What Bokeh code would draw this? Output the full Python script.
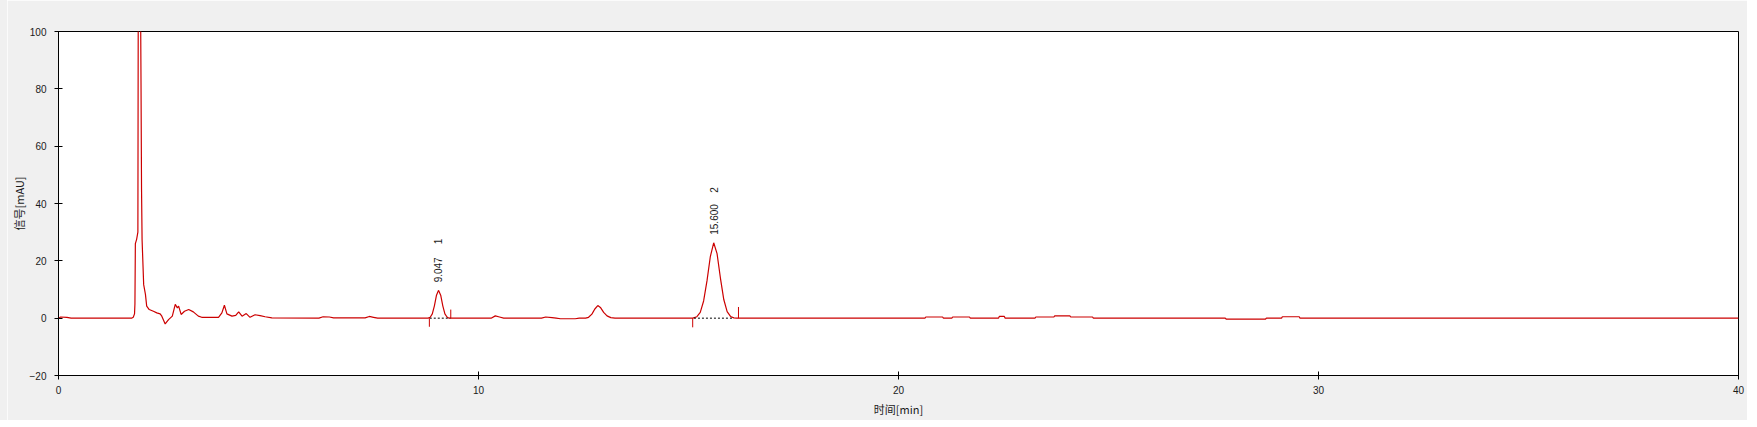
import math
from bokeh.plotting import figure
from bokeh.layouts import row
from bokeh.models import Range1d, ColumnDataSource, Spacer
from bokeh.core.properties import value
from bokeh.embed import file_html
from bokeh.resources import INLINE

# ---- data ----
time_min = [
    0.00, 0.05, 0.20, 0.30, 1.74, 1.78, 1.81, 1.82, 1.83, 1.86, 1.89, 1.90, 1.92, 1.95,
    1.965, 1.977, 1.99, 2.028, 2.07, 2.10, 2.16, 2.26, 2.34, 2.42, 2.46, 2.54, 2.62,
    2.71, 2.78, 2.83, 2.86, 2.92, 3.00, 3.10, 3.21, 3.33, 3.41, 3.81, 3.89, 3.95,
    4.01, 4.13, 4.22, 4.29, 4.37, 4.47, 4.56, 4.68, 4.80, 4.92, 5.08, 6.20, 6.30,
    6.45, 6.55, 7.30, 7.40, 7.50, 7.60,
    8.80, 8.85, 8.90, 8.95, 9.00, 9.047, 9.10, 9.15, 9.20, 9.25, 9.30,
    10.30, 10.40, 10.50, 10.60, 11.50, 11.60, 11.75, 11.85, 11.95, 12.30, 12.40,
    12.55, 12.62, 12.70, 12.77, 12.84, 12.91, 12.98, 13.06, 13.15, 13.25,
    15.10, 15.20, 15.28, 15.36, 15.44, 15.52, 15.60, 15.68, 15.76, 15.84, 15.92,
    16.00, 16.08, 16.15,
    20.63, 20.65, 21.05, 21.07, 21.27, 21.29, 21.69, 21.71, 22.38, 22.40, 22.52,
    22.54, 23.25, 23.27, 23.70, 23.72, 24.08, 24.10, 24.62, 24.64, 27.78, 27.80,
    28.74, 28.76, 29.12, 29.14, 29.54, 29.56, 40.00,
]
signal_mau = [
    0.0, 0.4, 0.3, 0.0, 0.0, 0.3, 1.5, 5.0, 26.0, 27.5, 30.0, 120.0, 160.0, 120.0,
    81.0, 45.0, 27.4, 11.7, 8.3, 4.2, 3.0, 2.4, 1.85, 1.5, 0.7, -2.0, -0.5,
    0.7, 4.8, 3.6, 4.2, 1.3, 2.4, 3.0, 2.2, 0.7, 0.3, 0.3, 1.85, 4.5,
    1.5, 0.7, 1.0, 2.2, 0.7, 1.6, 0.3, 1.2, 0.9, 0.5, 0.1, 0.0, 0.5,
    0.4, 0.1, 0.1, 0.6, 0.3, 0.0,
    0.0, 0.3, 1.5, 4.3, 8.0, 9.7, 8.0, 4.3, 1.5, 0.4, 0.0,
    0.0, 0.8, 0.4, 0.0, 0.0, 0.4, 0.2, 0.0, -0.2, -0.2, 0.0,
    0.0, 0.3, 1.4, 3.2, 4.4, 3.6, 2.0, 0.8, 0.2, 0.0,
    0.0, 0.5, 2.0, 6.0, 13.0, 21.5, 26.3, 22.5, 14.0, 6.5, 2.3,
    0.6, 0.1, 0.0,
    0.0, 0.4, 0.4, 0.0, 0.0, 0.4, 0.4, 0.0, 0.0, 0.6, 0.6,
    0.0, 0.0, 0.4, 0.4, 0.8, 0.8, 0.4, 0.4, 0.0, 0.0, -0.3,
    -0.3, 0.0, 0.0, 0.5, 0.5, 0.0, 0.0,
]

# integration markers (start / end of each peak)
marker_time = [8.83, 9.34, 15.10, 16.19]
marker_top = [-3.0, 3.0, -3.2, 3.9]
# dashed integration baselines
base_start = [8.84, 15.13]
base_end = [9.33, 16.08]
# identified peaks
peak_rt = [9.047, 15.600]
peak_height = [9.7, 26.3]
peak_rt_label = ["9.047", "15.600"]
peak_id = ["1", "2"]

x_ticks = [0, 10, 20, 30, 40]
y_ticks = [-20, 0, 20, 40, 60, 80, 100]

# ---- figure ----
p = figure(
    frame_width=1680, frame_height=344,
    min_border_top=31, min_border_right=9, min_border_bottom=45,
    x_range=Range1d(0, 40), y_range=Range1d(-20, 100),
    output_backend="svg", toolbar_location=None,
    background_fill_color="white", border_fill_color="#f0f0f0",
)
p.grid.visible = False
p.outline_line_color = "black"
p.outline_line_width = 1

for ax in (p.xaxis[0], p.yaxis[0]):
    ax.axis_line_color = "black"
    ax.major_tick_line_color = "black"
    ax.major_tick_in = 4
    ax.major_tick_out = 4
    ax.minor_tick_line_color = None
    ax.major_label_text_font = "Liberation Sans"
    ax.major_label_text_font_size = "10px"
    ax.major_label_text_color = "#1a1a1a"
    ax.axis_label_text_font = "Noto Sans CJK SC"
    ax.axis_label_text_font_size = "11px"
    ax.axis_label_text_font_style = "normal"
    ax.axis_label_text_color = "#1a1a1a"

p.xaxis.ticker = x_ticks
p.yaxis.ticker = y_ticks
p.xaxis.axis_label = "时间[min]"
p.yaxis.axis_label = "信号[mAU]"
p.xaxis.major_label_standoff = 6
p.yaxis.major_label_standoff = 8
p.xaxis.axis_label_standoff = 4
p.yaxis.axis_label_standoff = 0

p.line(time_min, signal_mau, line_color="#cc0000", line_width=1.2)

p.segment(x0=base_start, y0=[0] * len(base_start), x1=base_end, y1=[0] * len(base_end),
          line_color="black", line_width=1, line_dash="2 2")
p.segment(x0=marker_time, y0=[0] * len(marker_time), x1=marker_time, y1=marker_top,
          line_color="#cc0000", line_width=1)

src = ColumnDataSource(dict(x=peak_rt, y=peak_height, rt=peak_rt_label))
p.text(x="x", y="y", text="rt", source=src, angle=math.pi / 2,
       text_align="left", text_baseline="middle", y_offset=-8,
       text_font=value("Liberation Sans"), text_font_size="10px", text_color="#1a1a1a")
id_src = ColumnDataSource(dict(x=peak_rt, y=peak_height, pid=peak_id, off=[-46, -50]))
p.text(x="x", y="y", text="pid", source=id_src, angle=math.pi / 2,
       text_align="left", text_baseline="middle", y_offset="off",
       text_font=value("Liberation Sans"), text_font_size="10px", text_color="#1a1a1a")

pad = Spacer(width=7, height=420, styles={"background-color": "#f0f0f0"})
layout = row(pad, p, spacing=0)

open("out.html", "w").write(file_html(layout, INLINE))
